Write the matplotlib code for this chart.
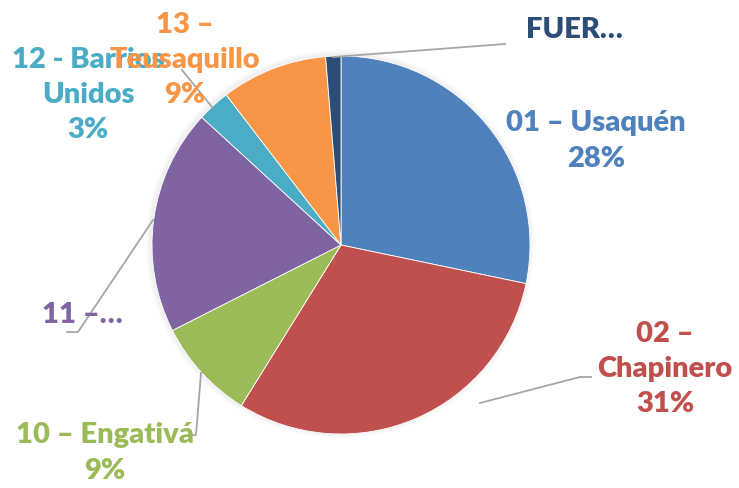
import matplotlib
matplotlib.use("Agg")
import matplotlib.pyplot as plt
from matplotlib.patches import Circle

# slice data (share of total)
names = ["01 – Usaquén", "02 –\nChapinero", "10 – Engativá", "11 –…",
         "12 - Barrios\nUnidos", "13 –\nTeusaquillo", "FUER…"]
values = [28.3, 30.6, 8.7, 19.3, 2.8, 9.1, 1.3]
pct_labels = ["28%", "31%", "9%", "", "3%", "9%", ""]
colors = ["#4F81BD", "#C0504D", "#9BBB59", "#8064A2",
          "#4BACC6", "#F79646", "#2C4D75"]

W, H = 739, 488
fig = plt.figure(figsize=(W / 100, H / 100), dpi=100)
ax = fig.add_axes([0, 0, 1, 1])

cx, cy, r = 341, H - 245, 189

# soft shadow around the pie
for i, a in enumerate([0.05, 0.035, 0.02]):
    ax.add_patch(Circle((cx - 1, cy + 1), r + 2 + 2 * i, color="#808080",
                        alpha=a, lw=0, zorder=0))

ax.pie(values, startangle=90, counterclock=False, center=(cx, cy), radius=r,
       colors=colors, wedgeprops=dict(edgecolor="white", linewidth=0.6))

ax.set_xlim(0, W)
ax.set_ylim(0, H)
ax.set_aspect("equal")
ax.axis("off")

# leader lines (image pixel coordinates)
leaders = [
    [(333, 57), (505, 44)],
    [(212, 107), (182, 70)],
    [(153, 220), (78, 332), (67, 332)],
    [(201, 373), (196, 435), (193, 435)],
    [(480, 403), (580, 377), (591, 377)],
]
for pts in leaders:
    xs = [p[0] for p in pts]
    ys = [H - p[1] for p in pts]
    ax.plot(xs, ys, color="#A6A6A6", lw=1.3, zorder=3)

# label positions (image pixel coordinates, text centre)
label_pos = [(596, 141), (665, 369), (105, 453), (82, 315),
             (88, 95), (185, 60), (574, 30)]
font = dict(family="Lato", weight="heavy", size=21)
for name, pct, col, (x, y) in zip(names, pct_labels, colors, label_pos):
    txt = name if not pct else name + "\n" + pct
    ax.text(x, H - y, txt, color=col, ha="center", va="center",
            linespacing=1.45, zorder=4, **font)

fig.savefig("out.png", dpi=100)
